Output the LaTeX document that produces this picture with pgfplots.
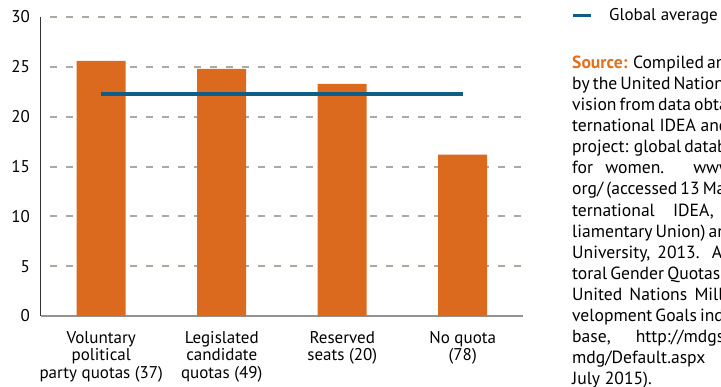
\documentclass[border=0pt]{standalone}
\usepackage{fontspec}
\setmainfont{PT Sans}
\usepackage{pgfplots}
\pgfplotsset{compat=1.18}

\definecolor{barorange}{HTML}{DC6A1E}
\definecolor{lineblue}{HTML}{0E5E86}
\definecolor{gridgray}{HTML}{ABAB9F}
\definecolor{srcorange}{HTML}{E2701F}

\newcommand{\jl}[2][242pt]{\makebox[#1][s]{#2}\\}

\begin{document}
\begin{tikzpicture}
\useasboundingbox (0pt,0pt) rectangle (721pt,-386pt);
\clip (0pt,0pt) rectangle (721pt,-386pt);
\begin{axis}[
    at={(41pt,-316pt)}, anchor=south west,
    scale only axis, width=482pt, height=299pt,
    xmin=-0.5, xmax=3.5, ymin=0, ymax=30,
    ytick={0,5,...,30},
    xtick={0,1,2,3},
    xticklabels={{Voluntary\\political\\party quotas (37)},
                 {Legislated\\candidate\\quotas (49)},
                 {Reserved\\seats (20)},
                 {No quota\\(78)}},
    axis x line*=bottom, axis y line*=left,
    x axis line style={draw=gray!85, line width=2pt},
    y axis line style={draw=black!80, line width=1pt},
    major tick length=0pt,
    ymajorgrids,
    grid style={draw=gridgray, line width=2pt, dash pattern=on 7pt off 9pt, dash phase=7pt},
    font=\fontsize{17}{17.5}\selectfont,
    /pgf/number format/assume math mode=true,
    yticklabel style={anchor=east, inner sep=0pt, xshift=-11pt},
    xticklabel style={align=center, anchor=north, inner sep=0pt, yshift=-15pt},
    legend style={at={(axis description cs:1.0995,1.0067)}, anchor=west,
        draw=none, fill=none, inner sep=0pt,
        font=\fontsize{17}{17.5}\selectfont,
        /tikz/every odd column/.append style={column sep=15pt}},
    legend image code/.code={\draw[#1, line width=3pt] (0pt,0pt) -- (18pt,0pt);},
    legend cell align=left,
]
\addplot[ybar, bar width=49pt, fill=barorange, draw=none, forget plot]
    coordinates {(0,25.6) (1,24.8) (2,23.3) (3,16.2)};
\addplot[sharp plot, no marks, line width=4pt, color=lineblue]
    coordinates {(0,22.3) (3,22.3)};
\addlegendentry{Global average}
\end{axis}
\node[anchor=base west, inner sep=0pt] at (572pt,-68.3pt) {\parbox[t]{320pt}{%
\fontsize{17.6}{21.1}\selectfont
\jl{\textcolor{srcorange}{\textbf{Source:}} Compiled and calculated}
\jl{by the United Nations Statistics Di-}
\jl{vision from data obtained from In-}
\jl{ternational IDEA and the Quota-}
\jl{project: global database of quotas}
\jl[262pt]{for women. www.quotaproject.}
\jl{org/ (accessed 13 March 2015) (In-}
\jl[232pt]{ternational IDEA, Inter-Par-}
\jl{liamentary Union) and Stockholm}
\jl{University, 2013. Atlas of Elec-}
\jl{toral Gender Quotas, 2013); and the}
\jl{United Nations Millennium De-}
\jl{velopment Goals indicators data-}
\jl[252pt]{base, http://mdgs.un.org/unsd/}
\jl{mdg/Default.aspx (accessed}
July 2015).}};
\end{tikzpicture}
\end{document}
